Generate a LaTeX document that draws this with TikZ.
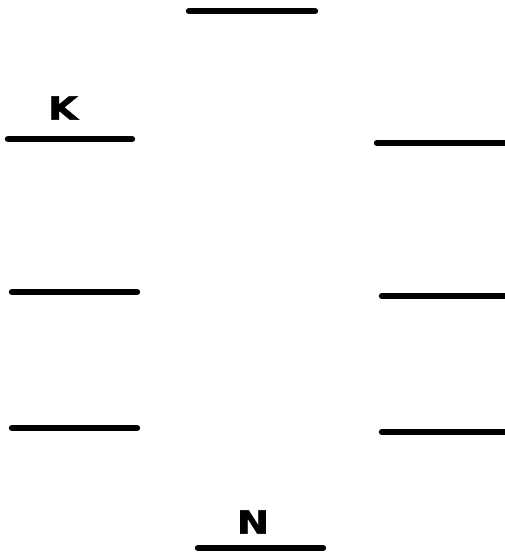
\documentclass[tikz,border=0pt]{standalone}
\usepackage{fontspec}
\newfontfamily\heavyfont[FakeBold=1.6]{DejaVu Sans Bold}
\usetikzlibrary{positioning}

\begin{document}
\begin{tikzpicture}[
    x=0.75pt, y=-0.75pt,
    level/.style={line width=4.8pt, line cap=round},          % Energy level bars
    tag/.style={font=\heavyfont\fontsize{24}{24}\selectfont, xscale=1.2, inner sep=0pt}  % Level labels
]

\useasboundingbox (0,0) rectangle (504,556);

% --- TOP LEVEL ---
\coordinate (t1) at (189,11);
\coordinate (t2) at (315,11);
\draw[level] (t1) -- (t2);

% --- LEFT COLUMN ---
\coordinate (k1) at (8,139);   \coordinate (k2) at (132,139);
\coordinate (l1) at (12,292);  \coordinate (l2) at (137,292);
\coordinate (m1) at (12,428);  \coordinate (m2) at (137,428);
\draw[level] (k1) -- (k2);
\draw[level] (l1) -- (l2);
\draw[level] (m1) -- (m2);
\node[tag] (K) at (63,108) {K};

% --- RIGHT COLUMN ---
\coordinate (r1) at (377,143); \coordinate (r2) at (508,143);
\coordinate (s1) at (382,296); \coordinate (s2) at (508,296);
\coordinate (u1) at (382,432); \coordinate (u2) at (508,432);
\draw[level] (r1) -- (r2);
\draw[level] (s1) -- (s2);
\draw[level] (u1) -- (u2);

% --- BOTTOM LEVEL ---
\coordinate (b1) at (198,548);
\coordinate (b2) at (323,548);
\draw[level] (b1) -- (b2);
\node[tag] (N) at (253,522) {N};

\end{tikzpicture}
\end{document}
